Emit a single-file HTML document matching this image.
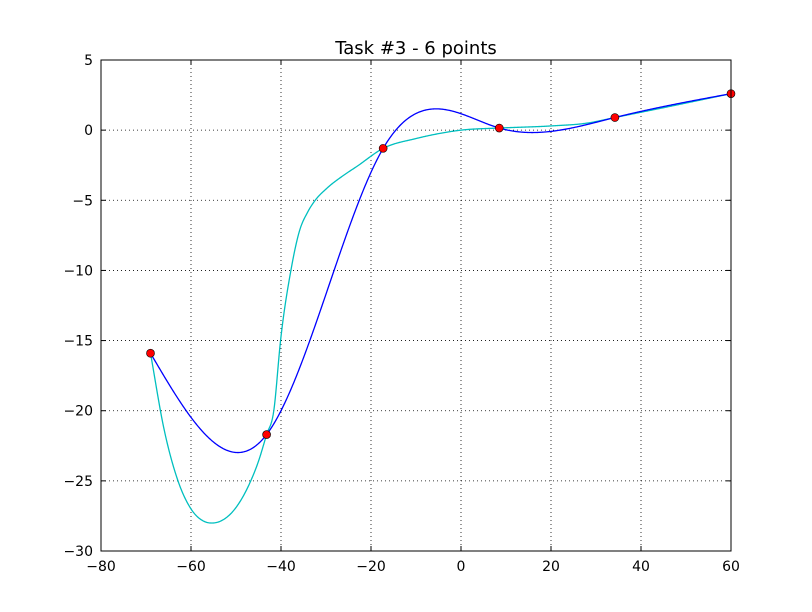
<!DOCTYPE html>
<html><head><meta charset="utf-8"><style>
body{margin:0;background:#fff;}
svg{display:block;font-family:"DejaVu Sans","Liberation Sans",sans-serif;}
</style></head><body>
<svg id="chart" width="812" height="612" viewBox="0 0 812 612"></svg>
<script>
const pointX = [-69, -43.2, -17.3, 8.5, 34.2, 60];
const pointY = [-15.9, -21.7, -1.3, 0.15, 0.9, 2.6];
const cyanX = [-69,-66,-63,-60,-57,-55,-53,-50,-47,-45,-43.2,-41.6,-40.1,-37.8,-36,-34,-32.4,-30,-26,-23.2,-17.3,-10,-5,0,8.5,20,28,34.2,45,60];
const cyanY = [-15.9,-21.3,-24.9,-27.0,-27.9,-28,-27.8,-26.9,-25.2,-23.6,-21.7,-20,-15,-10,-7.3,-5.8,-5.0,-4.2,-3.2,-2.6,-1.3,-0.6,-0.25,0.0,0.15,0.3,0.5,0.9,1.6,2.6];
const xTicks = [-80,-60,-40,-20,0,20,40,60];
const yTicks = [-30,-25,-20,-15,-10,-5,0,5];

const L=101,R=731,T=60,B=551,xmin=-80,xmax=60,ymin=-30,ymax=5;
const sx=v=>L+(v-xmin)/(xmax-xmin)*(R-L);
const sy=v=>B-(v-ymin)/(ymax-ymin)*(B-T);
const svg=document.getElementById('chart');
const NS='http://www.w3.org/2000/svg';
function mk(tag,attrs,parent){const e=document.createElementNS(NS,tag);for(const k in attrs)e.setAttribute(k,attrs[k]);(parent||svg).appendChild(e);return e;}
const fmt=t=>(t<0?'\u2212'+(-t):''+t);

xTicks.forEach(t=>{
  const g=mk('line',{x1:sx(t),x2:sx(t),y1:T,y2:B,stroke:'#000','stroke-width':0.8,'stroke-dasharray':'1,3'});
  
  
  const tk=mk('text',{x:sx(t),y:B+20,'text-anchor':'middle','font-size':14});
  tk.textContent=fmt(t);
  
  
  mk('line',{x1:sx(t),x2:sx(t),y1:B,y2:B-5,stroke:'#000'});
  mk('line',{x1:sx(t),x2:sx(t),y1:T,y2:T+5,stroke:'#000'});
});
yTicks.forEach(t=>{
  const g=mk('line',{x1:L,x2:R,y1:sy(t),y2:sy(t),stroke:'#000','stroke-width':0.8,'stroke-dasharray':'1,3'});
  
  
  const tk=mk('text',{x:L-8,y:sy(t)+5,'text-anchor':'end','font-size':14});
  tk.textContent=fmt(t);
  
  
  mk('line',{x1:L,x2:L+5,y1:sy(t),y2:sy(t),stroke:'#000'});
  mk('line',{x1:R,x2:R-5,y1:sy(t),y2:sy(t),stroke:'#000'});
});

function spline(xs,ys){
  const n=xs.length,h=[],a=[],l=[1],mu=[0],z=[0],c=new Array(n).fill(0),b=[],d=[];
  for(let i=0;i<n-1;i++)h[i]=xs[i+1]-xs[i];
  for(let i=1;i<n-1;i++)a[i]=3/h[i]*(ys[i+1]-ys[i])-3/h[i-1]*(ys[i]-ys[i-1]);
  for(let i=1;i<n-1;i++){l[i]=2*(xs[i+1]-xs[i-1])-h[i-1]*mu[i-1];mu[i]=h[i]/l[i];z[i]=(a[i]-h[i-1]*z[i-1])/l[i];}
  for(let j=n-2;j>=0;j--){c[j]=(j>0?z[j]:0)-mu[j]*c[j+1];b[j]=(ys[j+1]-ys[j])/h[j]-h[j]*(c[j+1]+2*c[j])/3;d[j]=(c[j+1]-c[j])/(3*h[j]);}
  return x=>{let i=0;while(i<n-2&&x>xs[i+1])i++;const dx=x-xs[i];return ys[i]+b[i]*dx+c[i]*dx*dx+d[i]*dx*dx*dx;};
}
function hermite(xs,ys){
  const n=xs.length,m=[];
  for(let i=0;i<n;i++){
    if(i==0)m[i]=(ys[1]-ys[0])/(xs[1]-xs[0]);
    else if(i==n-1)m[i]=(ys[i]-ys[i-1])/(xs[i]-xs[i-1]);
    else{const h0=xs[i]-xs[i-1],h1=xs[i+1]-xs[i],d0=(ys[i]-ys[i-1])/h0,d1=(ys[i+1]-ys[i])/h1;m[i]=(h1*d0+h0*d1)/(h0+h1);}
  }
  return x=>{let i=0;while(i<n-2&&x>xs[i+1])i++;const h=xs[i+1]-xs[i],t=(x-xs[i])/h,t2=t*t,t3=t2*t;
    return (2*t3-3*t2+1)*ys[i]+(t3-2*t2+t)*h*m[i]+(-2*t3+3*t2)*ys[i+1]+(t3-t2)*h*m[i+1];};
}
function curve(fn,x0,x1){let p=[];for(let k=0;k<=800;k++){const x=x0+(x1-x0)*k/800;p.push(sx(x).toFixed(2)+','+sy(fn(x)).toFixed(2));}return p.join(' ');}

const cyan=mk('polyline',{points:curve(hermite(cyanX,cyanY),cyanX[0],cyanX[cyanX.length-1]),fill:'none',stroke:'#00bfbf','stroke-width':1.3});


const blue=mk('polyline',{points:curve(spline(pointX,pointY),pointX[0],pointX[pointX.length-1]),fill:'none',stroke:'#0000ff','stroke-width':1.3});



pointX.forEach((x,i)=>{
  const c=mk('circle',{cx:sx(x),cy:sy(pointY[i]),r:4,fill:'#ff0000',stroke:'#000','stroke-width':0.6});
  
  
});

const fr=mk('rect',{x:L,y:T,width:R-L,height:B-T,fill:'none',stroke:'#000','stroke-width':1});


const title=mk('text',{x:(L+R)/2,y:T-6,'text-anchor':'middle','font-size':18});
title.textContent='Task #3 - 6 points';


</script>
</body></html>
